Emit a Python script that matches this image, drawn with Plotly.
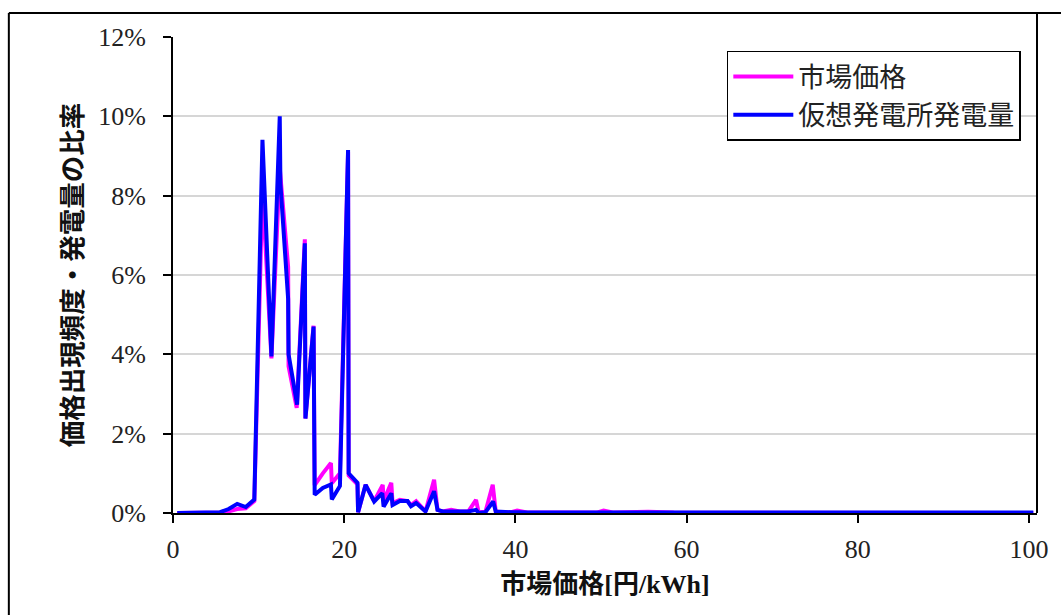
import plotly.graph_objects as go

# 市場価格 (magenta) - price occurrence frequency [%]
price_x = [0.5, 5.5, 6.5, 7.5, 8.5, 9.5, 10.45, 11.5, 12.47, 13.45, 13.5, 14.45, 15.4, 15.47,
           16.42, 16.55, 17.5, 18.45, 18.55, 19.5, 20.45, 20.52, 21.55, 21.62, 22.5, 23.5,
           24.5, 24.6, 25.5, 25.65, 26.5, 27.4, 27.8, 28.4, 29.5, 30.5, 30.9, 31.5, 32.5,
           33.5, 34.5, 35.4, 35.7, 36.5, 37.35, 37.7, 38.5, 39.5, 40.2, 41.5, 49.5, 50.3,
           51.5, 55.5, 58.5, 100.5]
price_y = [0, 0.01, 0.04, 0.1, 0.12, 0.3, 8.2, 3.9, 8.7, 6.2, 3.7, 2.65, 6.9, 2.38,
           4.72, 0.7, 1.0, 1.26, 0.75, 1.0, 9.1, 0.95, 0.72, 0.02, 0.71, 0.3,
           0.71, 0.3, 0.76, 0.25, 0.33, 0.3, 0.2, 0.3, 0.04, 0.84, 0.08, 0.04, 0.08,
           0.04, 0.04, 0.33, 0.02, 0.03, 0.71, 0.04, 0.02, 0.02, 0.06, 0.01, 0.01, 0.06,
           0.01, 0.03, 0.01, 0.0]

# 仮想発電所発電量 (blue) - generation share [%]
gen_x = [0.5, 5.5, 6.5, 7.5, 8.5, 9.5, 10.45, 11.5, 12.47, 12.55, 13.45, 13.5, 14.5, 15.4,
         15.47, 16.42, 16.55, 17.5, 18.45, 18.55, 19.5, 20.45, 20.52, 21.55, 21.62, 22.5,
         23.5, 24.45, 24.6, 25.5, 25.65, 26.5, 27.4, 27.8, 28.4, 29.5, 30.5, 30.9, 31.5,
         32.5, 33.5, 34.5, 35.4, 35.7, 36.5, 37.4, 37.7, 38.5, 39.5, 40.5, 41.5, 100.5]
gen_y = [0, 0.02, 0.1, 0.23, 0.15, 0.34, 9.41, 3.95, 10.0, 8.3, 5.4, 4.0, 2.73, 6.8,
         2.38, 4.7, 0.46, 0.63, 0.72, 0.34, 0.68, 9.15, 1.0, 0.76, 0.02, 0.71,
         0.29, 0.5, 0.16, 0.5, 0.2, 0.3, 0.3, 0.17, 0.25, 0.04, 0.55, 0.08, 0.04,
         0.04, 0.03, 0.04, 0.08, 0.0, 0.02, 0.29, 0.04, 0.02, 0.02, 0.02, 0.01, 0.01]

x_ticks = [0, 20, 40, 60, 80, 100]
y_ticks = [0, 2, 4, 6, 8, 10, 12]
y_labels = ["0%", "2%", "4%", "6%", "8%", "10%", "12%"]

jp = "Noto Sans CJK JP"
serif = "Liberation Serif"

fig = go.Figure()
fig.add_trace(go.Scatter(x=price_x, y=price_y, mode="lines", name="市場価格",
                         legendgroup="a", line=dict(color="#FF00FF", width=4)))
fig.add_trace(go.Scatter(x=gen_x, y=gen_y, mode="lines", name="仮想発電所発電量",
                         legendgroup="b", line=dict(color="#0000FF", width=4)))

fig.update_layout(
    width=1061, height=615,
    margin=dict(l=173, r=22, t=37, b=102),
    paper_bgcolor="white", plot_bgcolor="white",
    legend=dict(x=0.641, y=0.9706, xanchor="left", yanchor="top",
                bordercolor="black", borderwidth=1.5, bgcolor="white",
                font=dict(family=jp, size=27, color="#222"),
                tracegroupgap=0, itemwidth=60),
    shapes=[
        # outer chart frame (cropped)
        dict(type="line", xref="paper", yref="paper", x0=-0.190, x1=-0.190, y0=1.0504, y1=-0.25,
             line=dict(color="black", width=2)),
        dict(type="line", xref="paper", yref="paper", x0=-0.190, x1=1.03, y0=1.0504, y1=1.0504,
             line=dict(color="black", width=2)),
        dict(type="line", xref="paper", yref="paper", x0=1.0, x1=1.0, y0=0, y1=1.0504,
             line=dict(color="black", width=2)),
    ],
)

fig.update_xaxes(
    range=[0, 100.93], tickvals=x_ticks, ticks="outside", ticklen=8, tickwidth=1.5,
    tickcolor="black", showline=True, linecolor="black", linewidth=2,
    showgrid=False, zeroline=False, ticklabelstandoff=4,
    tickfont=dict(family=serif, size=26, color="#222"),
    title=dict(text="<b>市場価格[円/kWh]</b>",
               font=dict(family=serif + ", " + jp, size=26, color="#111"),
               standoff=12),
)
fig.update_yaxes(
    range=[0, 12], tickvals=y_ticks, ticktext=y_labels, ticks="outside", ticklen=8,
    tickwidth=1.5, tickcolor="black", showline=True, linecolor="black", linewidth=2,
    showgrid=True, gridcolor="#d6d6d6", gridwidth=1.5, zeroline=False,
    ticklabelstandoff=12,
    tickfont=dict(family=serif, size=26, color="#222"),
    title=dict(text="<b>価格出現頻度・発電量の比率</b>", font=dict(family=jp, size=26.5, color="#111"),
               standoff=8),
)

fig.write_html("out.html", config={"displayModeBar": False},
               post_script="document.body.style.margin='0';")
